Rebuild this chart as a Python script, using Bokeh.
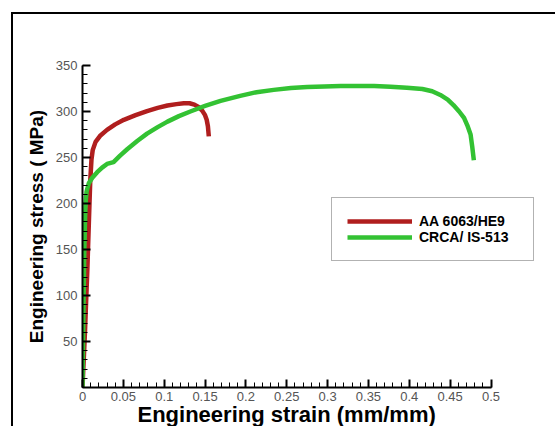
from bokeh.plotting import figure
from bokeh.models import FixedTicker, Range1d, Legend, LegendItem, Title
from bokeh.embed import file_html
from bokeh.resources import INLINE

# ---- data ----
aa_strain = [0, 0.003, 0.006, 0.008, 0.0095, 0.011, 0.0125, 0.016, 0.022, 0.030,
             0.040, 0.0506, 0.065, 0.079, 0.092, 0.104, 0.115, 0.124, 0.131, 0.137,
             0.142, 0.1465, 0.150, 0.152, 0.1535, 0.1546]
aa_stress = [0, 60, 130, 185, 225, 248, 258, 267, 274, 280,
             286, 291, 296, 300.5, 304, 306.5, 308, 309, 309, 307.5,
             305, 301, 296, 291, 284, 273]

crca_strain = [0, 0.001, 0.002, 0.003, 0.0037, 0.005, 0.0077, 0.012, 0.018, 0.024,
               0.030, 0.038, 0.046, 0.0547, 0.067, 0.079, 0.092, 0.104, 0.118, 0.132,
               0.150, 0.169, 0.193, 0.213, 0.234, 0.255, 0.275, 0.296, 0.316, 0.337,
               0.357, 0.377, 0.397, 0.416, 0.428, 0.438, 0.447, 0.454, 0.461, 0.467,
               0.471, 0.475, 0.477, 0.479]
crca_stress = [0, 70, 140, 180, 200, 213, 222, 228, 234, 239,
               243, 245, 252, 259, 268, 276, 283, 289, 295, 300,
               306, 311.5, 317, 321, 323.5, 325.5, 326.5, 327.3, 327.6, 327.8,
               327.6, 326.8, 325.8, 324.4, 322, 318, 313, 307, 300, 293,
               285, 275, 262, 247]

series_names = ["AA 6063/HE9", "CRCA/ IS-513"]
x_label = "Engineering strain (mm/mm)"
y_label = "Engineering stress ( MPa)"
x_ticks = [0, 0.05, 0.1, 0.15, 0.2, 0.25, 0.3, 0.35, 0.4, 0.45, 0.5]
x_tick_labels = ["0", "0.05", "0.1", "0.15", "0.2", "0.25", "0.3", "0.35", "0.4", "0.45", "0.5"]
y_ticks = [50, 100, 150, 200, 250, 300, 350]
x_minor = [round(i * 0.01, 2) for i in range(51)]
y_minor = list(range(0, 351, 10))

FONT = "Liberation Sans"

p = figure(frame_width=463, frame_height=322, output_backend="svg", toolbar_location=None,
           x_range=Range1d(0, 0.5667), y_range=Range1d(0, 350),
           min_border_left=69, min_border_right=10, min_border_top=51, min_border_bottom=38)
p.styles = {"border-left": "2px solid black", "border-top": "2px solid black",
            "margin-left": "11px", "margin-top": "12px"}
p.outline_line_color = None
p.xgrid.visible = False
p.ygrid.visible = False
p.background_fill_color = "white"
p.border_fill_color = "white"

r1 = p.line(aa_strain, aa_stress, line_color="#B01E1E", line_width=4.5)
r2 = p.line(crca_strain, crca_stress, line_color="#33C233", line_width=4.5)

for ax in (p.xaxis[0], p.yaxis[0]):
    ax.axis_line_color = "black"
    ax.axis_line_width = 2
    ax.major_tick_line_color = "black"
    ax.major_tick_line_width = 2
    ax.minor_tick_line_color = "black"
    ax.minor_tick_line_width = 1
    ax.major_tick_in = 8
    ax.major_tick_out = 0
    ax.minor_tick_in = 5
    ax.minor_tick_out = 0
    ax.major_label_text_font = FONT
    ax.major_label_text_font_size = "13px"
    ax.major_label_text_color = "#555555"
    ax.axis_label_text_font = FONT
    ax.axis_label_text_font_style = "bold"
    ax.axis_label_text_color = "black"

p.xaxis[0].bounds = (0, 0.5)
p.xaxis[0].ticker = FixedTicker(ticks=x_ticks, minor_ticks=x_minor)
p.xaxis[0].major_label_overrides = dict(zip(x_ticks, x_tick_labels))
p.xaxis[0].major_label_standoff = 4

# x-axis title centred under the drawn axis (0..0.5), not the wider frame
xt = Title(text=x_label, align="left", offset=55, standoff=-4, vertical_align="top",
           text_font=FONT, text_font_style="bold", text_font_size="22px",
           text_color="black")
p.add_layout(xt, "below")

p.yaxis[0].ticker = FixedTicker(ticks=y_ticks, minor_ticks=y_minor)
p.yaxis[0].axis_label = y_label
p.yaxis[0].axis_label_text_font_size = "19px"
p.yaxis[0].major_label_standoff = 5
p.yaxis[0].axis_label_standoff = 6

legend = Legend(items=[LegendItem(label=series_names[0], renderers=[r1]),
                       LegendItem(label=series_names[1], renderers=[r2])],
                location=(249, 126))
legend.border_line_color = "#666666"
legend.border_line_width = 1
legend.background_fill_color = "white"
legend.background_fill_alpha = 1
legend.padding = 15
legend.margin = 0
legend.spacing = 0
legend.glyph_width = 65
legend.glyph_height = 16
legend.label_height = 16
legend.label_width = 99
legend.label_standoff = 7
legend.label_text_font = FONT
legend.label_text_font_style = "bold"
legend.label_text_font_size = "14px"
legend.label_text_color = "black"
p.add_layout(legend, "center")

open("out.html", "w").write(file_html(p, INLINE))
